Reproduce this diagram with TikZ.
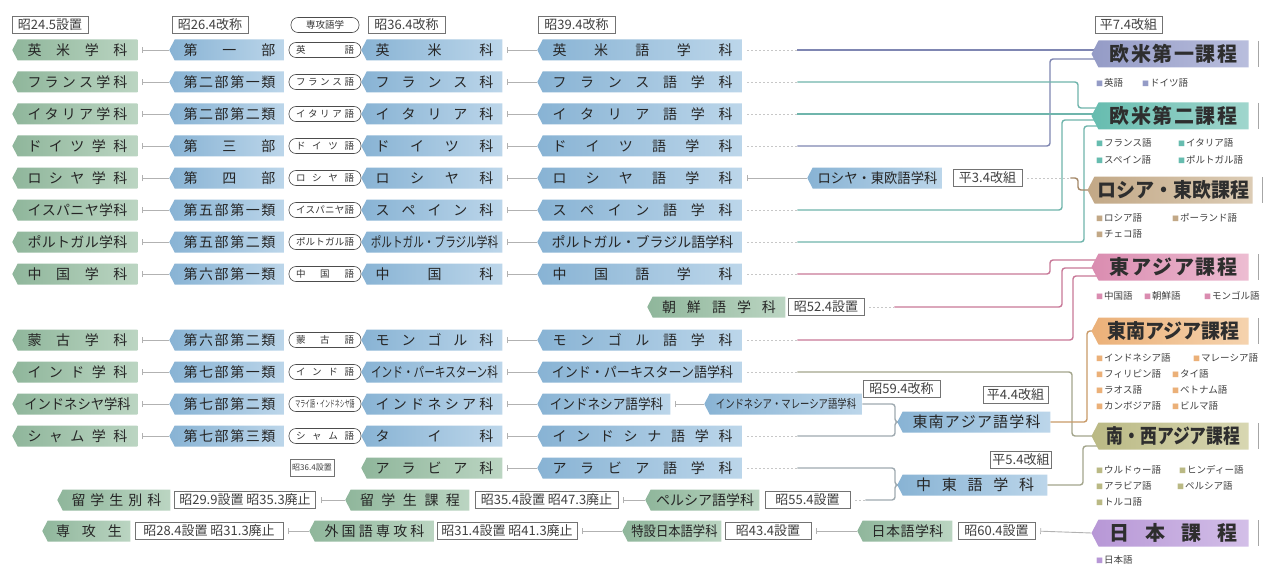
\documentclass[tikz,border=0pt]{standalone}
\usepackage{fontspec}
\setmainfont{Noto Sans CJK JP}
\usepackage{graphicx}
\usetikzlibrary{shapes.symbols,backgrounds,arrows.meta}

\makeatletter
\def\spaceout#1{\spo@#1\spo@end}
\def\spo@#1#2\spo@end{#1\if\relax\detokenize{#2}\relax\else\hfill\spo@#2\spo@end\fi}
\makeatother
\newcommand\SP[2]{\makebox[#1pt][s]{\spaceout{#2}}}
\newcommand\SX[2]{\scalebox{#1}[1]{#2}}
\newcommand\LG[2]{{\color{#1}\fontsize{7}{7}\selectfont ■}\hspace{1pt}#2}

\definecolor{gL}{HTML}{8FB69B}\definecolor{gR}{HTML}{BBD5C2}
\definecolor{bL}{HTML}{88B3D4}\definecolor{bR}{HTML}{BCD6EA}
\definecolor{e1L}{HTML}{949BC6}\definecolor{e1R}{HTML}{B9BEDD}
\definecolor{e2L}{HTML}{66BCAF}\definecolor{e2R}{HTML}{A0D6CD}
\definecolor{e3L}{HTML}{C2A886}\definecolor{e3R}{HTML}{DCCCB5}
\definecolor{e4L}{HTML}{DA8CB0}\definecolor{e4R}{HTML}{EDBDD2}
\definecolor{e5L}{HTML}{EBB078}\definecolor{e5R}{HTML}{F5D3AE}
\definecolor{e6L}{HTML}{BAB984}\definecolor{e6R}{HTML}{D8D7B2}
\definecolor{e7L}{HTML}{B797D6}\definecolor{e7R}{HTML}{D3BFE8}
\definecolor{k1}{HTML}{7F86B2}\definecolor{k2}{HTML}{6FB5AC}
\definecolor{k3}{HTML}{A48868}\definecolor{k4}{HTML}{C87898}
\definecolor{k5}{HTML}{C99A68}\definecolor{k6}{HTML}{A3A58C}
\definecolor{kg}{HTML}{9FAAB0}

\newcommand\Row[7]{%
\node[gn,minimum width=125pt] (a#1) at (77.5,#2) {#3};
\node[bn,minimum width=115pt] (b#1) at (229.5,#2) {#4};
\node[pn] (p#1) at (325,#2) {#5};
\node[bn,minimum width=141pt] (c#1) at (434.5,#2) {#6};
\node[bn,minimum width=205pt] (d#1) at (642.5,#2) {#7};}

\tikzset{
 sig/.style={shape=signal, signal to=west, signal pointer angle=125, inner xsep=3pt, inner ysep=0pt, minimum height=21pt, font=\fontsize{14}{16}\selectfont, text=black!85},
 gn/.style={sig, left color=gL, right color=gR},
 bn/.style={sig, left color=bL, right color=bR},
 en/.style={sig, minimum height=27pt, minimum width=157pt, font=\fontsize{20}{22}\selectfont\bfseries, text=black!82},
 pn/.style={rectangle, rounded corners=7pt, draw=black!70, fill=white, line width=0.6pt, minimum height=15pt, minimum width=72pt, inner sep=0pt, font=\fontsize{9.5}{10}\selectfont, text=black!80},
 tg/.style={rectangle, draw=black!55, fill=white, line width=0.6pt, minimum height=17pt, inner xsep=2pt, inner ysep=0pt, font=\fontsize{13}{13}\selectfont, text=black!75},
 lg/.style={anchor=west, inner sep=0pt, font=\fontsize{9.5}{10}\selectfont, text=black!75},
 link/.style={draw=black!30, line width=0.9pt, {Bar[width=6pt,line width=0.7pt]}-, shorten <=5pt},
 faint/.style={draw=black!22, line width=0.9pt, dash pattern=on 1.5pt off 2.5pt, shorten <=5pt},
 cl/.style={line width=1.4pt, rounded corners=3pt},
 vbar/.style={draw=black!35, line width=0.8pt}
}

\begin{document}
\begin{tikzpicture}[x=1pt,y=-1pt]
\useasboundingbox (0,0) rectangle (1285,567);

% headers
\node[tg, minimum width=76pt] (h1) at (50,25) {昭24.5設置};
\node[tg, minimum width=76pt] (h2) at (210,25) {昭26.4改称};
\node[pn, minimum width=68pt] (h3) at (325,25) {専攻語学};
\node[tg, minimum width=77pt] (h4) at (406.5,25) {昭36.4改称};
\node[tg, minimum width=77pt] (h5) at (576.5,25) {昭39.4改称};
\node[tg, minimum width=67pt] (h6) at (1128.5,25) {平7.4改組};

% rows
\Row{1}{50}{\SP{100}{英米学科}}{\SP{92}{第一部}}{\SP{58}{英語}}{\SP{118}{英米科}}{\SP{180}{英米語学科}}
\Row{2}{82}{\SP{100}{フランス学科}}{\SP{92}{第二部第一類}}{\SP{58}{フランス語}}{\SP{118}{フランス科}}{\SP{180}{フランス語学科}}
\Row{3}{114}{\SP{100}{イタリア学科}}{\SP{92}{第二部第二類}}{\SP{58}{イタリア語}}{\SP{118}{イタリア科}}{\SP{180}{イタリア語学科}}
\Row{4}{146}{\SP{100}{ドイツ学科}}{\SP{92}{第三部}}{\SP{58}{ドイツ語}}{\SP{118}{ドイツ科}}{\SP{180}{ドイツ語学科}}
\Row{5}{178}{\SP{100}{ロシヤ学科}}{\SP{92}{第四部}}{\SP{58}{ロシヤ語}}{\SP{118}{ロシヤ科}}{\SP{180}{ロシヤ語学科}}
\Row{6}{210}{\SP{100}{イスパニヤ学科}}{\SP{92}{第五部第一類}}{\SP{58}{イスパニヤ語}}{\SP{118}{スペイン科}}{\SP{180}{スペイン語学科}}
\Row{7}{242}{\SP{100}{ポルトガル学科}}{\SP{92}{第五部第二類}}{\SP{58}{ポルトガル語}}{\SX{0.76}{ポルトガル・ブラジル学科}}{ポルトガル・ブラジル語学科}
\Row{8}{274}{\SP{100}{中国学科}}{\SP{92}{第六部第一類}}{\SP{58}{中国語}}{\SP{118}{中国科}}{\SP{180}{中国語学科}}
\Row{10}{340}{\SP{100}{蒙古学科}}{\SP{92}{第六部第二類}}{\SP{58}{蒙古語}}{\SP{118}{モンゴル科}}{\SP{180}{モンゴル語学科}}
\Row{11}{372}{\SP{100}{インド学科}}{\SP{92}{第七部第一類}}{\SP{58}{インド語}}{\SX{0.76}{インド・パーキスターン科}}{\SX{0.93}{インド・パーキスターン語学科}}
\node[gn,minimum width=125pt] (a12) at (77.5,404) {\SX{0.95}{インドネシヤ学科}};
\node[bn,minimum width=115pt] (b12) at (229.5,404) {\SP{92}{第七部第二類}};
\node[pn] (p12) at (325,404) {\SX{0.52}{マライ語・インドネシヤ語}};
\node[bn,minimum width=141pt] (c12) at (434.5,404) {\SP{118}{インドネシア科}};
\node[bn,minimum width=133pt] (d12) at (606.5,404) {\SX{0.9}{インドネシア語学科}};
\node[bn,minimum width=158pt] (I12) at (786,404) {\SX{0.78}{\fontsize{12}{12}\selectfont インドネシア・マレーシア語学科}};
\node[tg,minimum width=77pt] (t12) at (901.5,389) {昭59.4改称};
\Row{13}{436}{\SP{100}{シャム学科}}{\SP{92}{第七部第三類}}{\SP{58}{シャム語}}{\SP{118}{タイ科}}{\SP{180}{インドシナ語学科}}

% row 5 extension
\node[bn,minimum width=135pt] (R5) at (877.5,178) {\SX{0.95}{ロシヤ・東欧語学科}};
\node[tg,minimum width=69pt] (t5) at (987.5,178) {平3.4改組};

% row 9
\node[gn,minimum width=138pt] (k9) at (719,307) {\SP{114}{朝鮮語学科}};
\node[tg,minimum width=76pt] (t9) at (826,307) {昭52.4設置};

% row 14
\node[tg,minimum width=44pt,font=\fontsize{8}{8}\selectfont] (t14) at (312,468) {昭36.4設置};
\node[gn,minimum width=141pt] (c14) at (434.5,468) {\SP{118}{アラビア科}};
\node[bn,minimum width=205pt] (d14) at (642.5,468) {\SP{180}{アラビア語学科}};

% row 15
\node[gn,minimum width=113pt] (g15a) at (116.5,500) {\SP{90}{留学生別科}};
\node[tg,minimum width=141pt] (t15a) at (245,500) {昭29.9設置 昭35.3廃止};
\node[gn,minimum width=124pt] (g15b) at (410,500) {\SP{100}{留学生課程}};
\node[tg,minimum width=143pt] (t15b) at (546.5,500) {昭35.4設置 昭47.3廃止};
\node[gn,minimum width=114pt] (g15c) at (705,500) {ペルシア語学科};
\node[tg,minimum width=85pt] (t15c) at (807.5,500) {昭55.4設置};

% row 16
\node[gn,minimum width=88pt] (g16a) at (89,531) {\SP{66}{専攻生}};
\node[tg,minimum width=148pt] (t16a) at (209,531) {昭28.4設置 昭31.3廃止};
\node[gn,minimum width=125pt] (g16b) at (374.5,531) {\SP{100}{外国語専攻科}};
\node[tg,minimum width=140pt] (t16b) at (507,531) {昭31.4設置 昭41.3廃止};
\node[gn,minimum width=99pt] (g16c) at (674.5,531) {\SX{0.88}{特設日本語学科}};
\node[tg,minimum width=86pt] (t16c) at (768,531) {昭43.4設置};
\node[gn,minimum width=95pt] (g16d) at (907.5,531) {\SP{72}{日本語学科}};
\node[tg,minimum width=77pt] (t16d) at (996.5,531) {昭60.4設置};

% merged departments
\node[tg,minimum width=65pt] (t4) at (1015.5,395) {平4.4改組};
\node[bn,minimum width=153pt,font=\fontsize{15}{16}\selectfont] (S) at (976.5,422) {\SP{128}{東南アジア語学科}};
\node[tg,minimum width=58pt] (t5b) at (1021,460) {平5.4改組};
\node[bn,minimum width=150pt,font=\fontsize{15}{16}\selectfont] (M) at (975,485) {\SP{118}{中東語学科}};

% courses
\node[en, left color=e1L, right color=e1R] (E1) at (1173.5,54) {\SP{128}{欧米第一課程}};
\node[en, left color=e2L, right color=e2R] (E2) at (1173.5,116) {\SP{128}{欧米第二課程}};
\node[en, left color=e3L, right color=e3R] (E3) at (1173.5,190) {\SX{0.95}{ロシア・東欧課程}};
\node[en, left color=e4L, right color=e4R] (E4) at (1173.5,267) {\SP{128}{東アジア課程}};
\node[en, left color=e5L, right color=e5R] (E5) at (1173.5,331) {\SX{0.95}{東南アジア課程}};
\node[en, left color=e6L, right color=e6R] (E6) at (1173.5,436) {\SX{0.84}{南・西アジア課程}};
\node[en, left color=e7L, right color=e7R] (E7) at (1173.5,533) {\SP{128}{日本課程}};
\foreach \e in {E1,E2,E3,E4,E5,E6,E7}{\draw[vbar] ([xshift=10pt]\e.east) ++(0,-13) -- ++(0,26);}

% legends
\node[lg] (L1) at (1096,83) {\makebox[46pt][l]{\LG{e1L}{英語}}\LG{e1L}{ドイツ語}};
\node[lg] (L2a) at (1096,143) {\makebox[82pt][l]{\LG{e2L}{フランス語}}\LG{e2L}{イタリア語}};
\node[lg] (L2b) at (1096,160) {\makebox[82pt][l]{\LG{e2L}{スペイン語}}\LG{e2L}{ポルトガル語}};
\node[lg] (L3a) at (1096,218) {\makebox[76pt][l]{\LG{e3L}{ロシア語}}\LG{e3L}{ポーランド語}};
\node[lg] (L3b) at (1096,234) {\LG{e3L}{チェコ語}};
\node[lg] (L4) at (1096,296) {\makebox[48pt][l]{\LG{e4L}{中国語}}\makebox[60pt][l]{\LG{e4L}{朝鮮語}}\LG{e4L}{モンゴル語}};
\node[lg] (L5a) at (1096,358) {\makebox[97pt][l]{\LG{e5L}{インドネシア語}}\LG{e5L}{マレーシア語}};
\node[lg] (L5b) at (1096,374) {\makebox[76pt][l]{\LG{e5L}{フィリピン語}}\LG{e5L}{タイ語}};
\node[lg] (L5c) at (1096,390) {\makebox[76pt][l]{\LG{e5L}{ラオス語}}\LG{e5L}{ベトナム語}};
\node[lg] (L5d) at (1096,406) {\makebox[76pt][l]{\LG{e5L}{カンボジア語}}\LG{e5L}{ビルマ語}};
\node[lg] (L6a) at (1096,470) {\makebox[83pt][l]{\LG{e6L}{ウルドゥー語}}\LG{e6L}{ヒンディー語}};
\node[lg] (L6b) at (1096,486) {\makebox[81pt][l]{\LG{e6L}{アラビア語}}\LG{e6L}{ペルシア語}};
\node[lg] (L6c) at (1096,502) {\LG{e6L}{トルコ語}};
\node[lg] (L7) at (1096,560) {\LG{e7L}{日本語}};

\begin{pgfonlayer}{background}
\fill[white] (0,0) rectangle (1285,567);
\foreach \i in {1,2,3,4,5,6,7,8,10,11,12,13}{
  \draw[link] (a\i.east) -- (b\i.west);
  \draw[link] (c\i.east) -- (d\i.west);
}
\draw[link] (c14.east) -- (d14.west);
\draw[link] (d5.east) -- (R5.west);
\draw[link] (d12.east) -- (I12.west);
\draw[link] (t15a.east) -- (g15b.west);
\draw[link] (t15b.east) -- (g15c.west);
\draw[link] (t16a.east) -- (g16b.west);
\draw[link] (t16b.east) -- (g16c.west);
\draw[link] (t16c.east) -- (g16d.west);
\draw[link] (t16d.east) -- (E7.west);
% to courses
\foreach \i in {1,2,3,4,6,7,8,10,11,13,14}{\draw[faint] (d\i.east) -- ++(55,0);}
\draw[cl,draw=k1] ([xshift=55pt]d1.east) -- (E1.center |- d1.east);
\draw[cl,draw=k1] ([xshift=55pt]d4.east) -| (1050,59) -- (E1.center |- 0,59);
\draw[cl,draw=k2] ([xshift=55pt]d2.east) -| (1078,108) -- (E2.center |- 0,108);
\draw[cl,draw=k2] ([xshift=55pt]d3.east) -- (E2.center |- d3.east);
\draw[cl,draw=k2] ([xshift=55pt]d6.east) -| (1062,120) -- (E2.center |- 0,120);
\draw[cl,draw=k2] ([xshift=55pt]d7.east) -| (1084,126) -- (E2.center |- 0,126);
\draw[faint] (t5.east) -- ++(48,0);
\draw[cl,draw=k3] ([xshift=48pt]t5.east) -| (1078,190) -- (E3.center);
\draw[cl,draw=k4] ([xshift=55pt]d8.east) -| (1050,260) -- (E4.center |- 0,260);
\draw[faint] (t9.east) -- ++(30,0);
\draw[cl,draw=k4] ([xshift=30pt]t9.east) -| (1062,268) -- (E4.center |- 0,268);
\draw[cl,draw=k4] ([xshift=55pt]d10.east) -| (1073,276) -- (E4.center |- 0,276);
\draw[cl,draw=k6] ([xshift=55pt]d11.east) -| (1072,436) -- (E6.center |- 0,436);
\draw[cl,draw=kg] (I12.east) -| (895,422) -- (S.west);
\draw[cl,draw=kg] ([xshift=55pt]d13.east) -| (895,422) -- (S.west);
\draw[cl,draw=kg] ([xshift=55pt]d14.east) -| (895,485) -- (M.west);
\draw[faint] (t15c.east) -- ++(15,0);
\draw[cl,draw=kg] ([xshift=15pt]t15c.east) -| (895,485) -- (M.west);
\draw[cl,draw=k5] (S.east) -| (1087,331) -- (E5.center);
\draw[cl,draw=k6] (M.east) -| (1083,446) -- (E6.center |- 0,446);
\end{pgfonlayer}
\end{tikzpicture}
\end{document}
